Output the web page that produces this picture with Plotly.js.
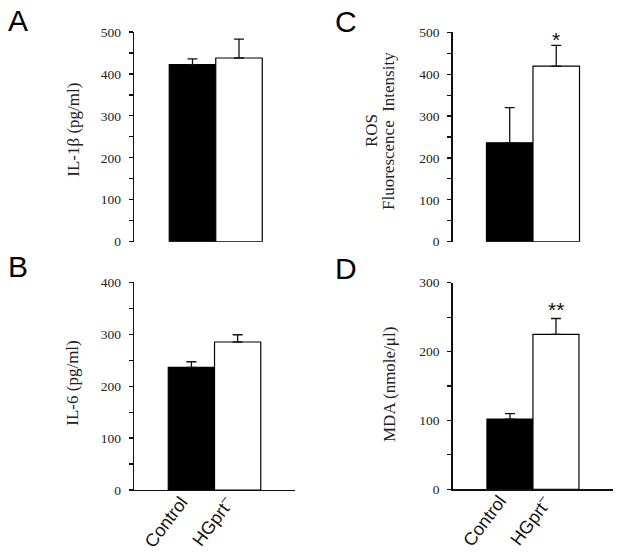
<!DOCTYPE html>
<html>
<head>
<meta charset="utf-8">
<script src="https://cdn.plot.ly/plotly-3.0.1.min.js"></script>
<style>html,body{margin:0;padding:0;background:#fff}#chart{width:621px;height:555px}</style>
</head>
<body>
<div id="chart"></div>
<script>
// ---- data ----
const categories = ["Control", "HGprt<sup>–</sup>"];
const barColors = ["#000000", "#ffffff"];

const il1bMean = [422, 438];
const il1bErr  = [14, 45];

const il6Mean = [236, 285];
const il6Err  = [11, 14];

const rosMean = [236, 419];
const rosErr  = [84, 50];
const rosSig  = ["", "*"];

const mdaMean = [102, 225];
const mdaErr  = [8, 23];
const mdaSig  = ["", "**"];

const panelLetters = ["A", "B", "C", "D"];
const yTitles = ["IL-1β (pg/ml)", "IL-6 (pg/ml)", "ROS", "MDA (nmole/μl)"];
const rosSecondLine = "Fluorescence\u00a0 Intensity";

// ---- layout helpers ----
const W = 621, H = 555;
const px = x => x / W;
const py = y => 1 - y / H;

function barTrace(mean, err, xa, ya) {
  return {
    type: "bar", x: categories, y: mean, xaxis: xa, yaxis: ya,
    marker: {color: barColors, line: {color: "#000", width: 1.2}},
    error_y: {type: "data", symmetric: false, array: err, arrayminus: [0, 0],
              color: "#111", thickness: 1.3, width: 5},
    hoverinfo: "none", showlegend: false
  };
}

const data = [
  barTrace(il1bMean, il1bErr, "x", "y"),
  barTrace(il6Mean, il6Err, "x2", "y2"),
  barTrace(rosMean, rosErr, "x3", "y3"),
  barTrace(mdaMean, mdaErr, "x4", "y4")
];

const tickFont = {family: "Liberation Serif, Times New Roman, serif", size: 13.5, color: "#222"};
function yAx(domain, range) {
  return {
    domain: domain, range: range, showgrid: false, zeroline: false,
    showline: true, linecolor: "#111", linewidth: 1.4,
    ticks: "outside", ticklen: 4, tickwidth: 1.2, tickcolor: "#111",
    dtick: 100, tick0: 0,
    minor: {dtick: 50, ticks: "outside", ticklen: 4, tickwidth: 1.2, tickcolor: "#111", showgrid: false},
    tickfont: tickFont, ticklabelstandoff: 5, fixedrange: true
  };
}
function xAx(domain, range, showLine, anchor) {
  return {
    domain: domain, range: range, type: "category", anchor: anchor,
    showgrid: false, zeroline: false,
    showline: showLine, linecolor: "#111", linewidth: 1.4,
    ticks: "", showticklabels: false,
    fixedrange: true
  };
}

const titleFont = {family: "Liberation Serif, Times New Roman, serif", size: 17, color: "#222"};
const letterFont = {family: "Liberation Sans, Arial, sans-serif", size: 30, color: "#000"};
const catFont = {family: "Liberation Sans, Arial, sans-serif", size: 18, color: "#111"};

function paperAnn(text, x, y, font, angle) {
  return {text: text, xref: "paper", yref: "paper", x: px(x), y: py(y),
          xanchor: "center", yanchor: "middle", showarrow: false, font: font,
          textangle: angle || 0};
}

const annotations = [
  paperAnn(panelLetters[0], 17.5, 20.5, letterFont),
  paperAnn(panelLetters[1], 17.5, 266.5, letterFont),
  paperAnn(panelLetters[2], 345.5, 21, letterFont),
  paperAnn(panelLetters[3], 346.3, 268.5, letterFont),
  paperAnn(yTitles[0], 72.7, 130, titleFont, -90),
  paperAnn(yTitles[1], 72.7, 383, titleFont, -90),
  paperAnn(yTitles[2], 371, 131, titleFont, -90),
  paperAnn(rosSecondLine, 388, 131, titleFont, -90),
  paperAnn(yTitles[3], 389, 385, titleFont, -90)
];

// category labels under the bottom panels, rotated
function catAnns(xa, ya, angle) {
  return categories.map(c => ({
    text: c, x: c, y: 0, xref: xa, yref: ya,
    xanchor: "right", yanchor: "top", showarrow: false,
    textangle: angle, xshift: 3, yshift: 0, font: catFont
  }));
}
annotations.push(...catAnns("x2", "y2", -53));
annotations.push(...catAnns("x4", "y4", -53));

function sigAnns(sig, mean, err, xa, ya, shift) {
  return sig.map((s, i) => ({
    text: s, x: categories[i], y: mean[i] + err[i], xref: xa, yref: ya,
    xanchor: "center", yanchor: "bottom", showarrow: false, yshift: shift,
    font: {family: "Liberation Sans, Arial, sans-serif", size: 21, color: "#111"}
  })).filter(a => a.text);
}
annotations.push(...sigAnns(rosSig, rosMean, rosErr, "x3", "y3", -8));
annotations.push(...sigAnns(mdaSig, mdaMean, mdaErr, "x4", "y4", -4));

const layout = {
  width: W, height: H,
  margin: {l: 0, r: 0, t: 0, b: 0},
  paper_bgcolor: "#fff", plot_bgcolor: "rgba(0,0,0,0)",
  bargap: 0, showlegend: false,
  xaxis:  xAx([px(134), px(295)], [-1.258, 2.204], false, "y"),
  yaxis:  yAx([py(241.7), py(32)], [0, 500]),
  xaxis2: xAx([px(134), px(295)], [-1.241, 2.24], true, "y2"),
  yaxis2: yAx([py(490), py(282.3)], [0, 400]),
  xaxis3: xAx([px(452.7), px(613)], [-1.226, 2.22], false, "y3"),
  yaxis3: yAx([py(241.7), py(32.3)], [0, 500]),
  xaxis4: xAx([px(452.7), px(613)], [-1.245, 2.24], true, "y4"),
  yaxis4: yAx([py(489.3), py(282.7)], [0, 300]),
  annotations: annotations
};
layout.yaxis.anchor = "x";
layout.yaxis2.anchor = "x2";
layout.yaxis3.anchor = "x3";
layout.yaxis4.anchor = "x4";

Plotly.newPlot("chart", data, layout, {displayModeBar: false, staticPlot: true});
</script>
</body>
</html>
